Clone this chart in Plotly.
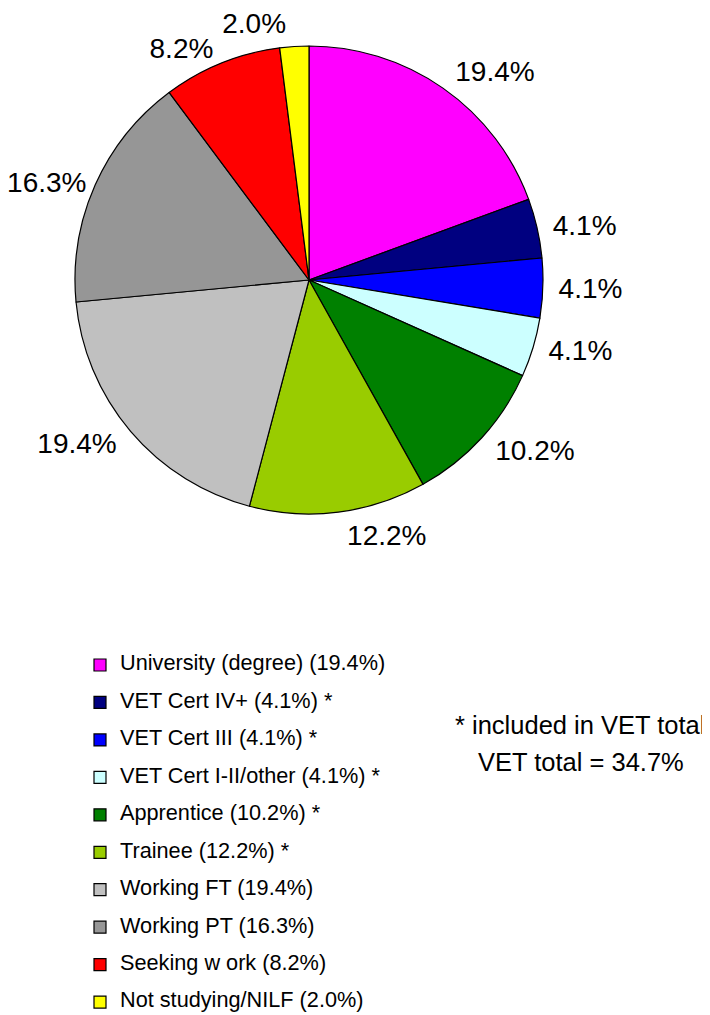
import plotly.graph_objects as go

categories = [
    "University (degree) (19.4%)",
    "VET Cert IV+ (4.1%) *",
    "VET Cert III (4.1%) *",
    "VET Cert I-II/other (4.1%) *",
    "Apprentice (10.2%) *",
    "Trainee (12.2%) *",
    "Working FT (19.4%)",
    "Working PT (16.3%)",
    "Seeking w ork (8.2%)",
    "Not studying/NILF (2.0%)",
]
values = [19.4, 4.1, 4.1, 4.1, 10.2, 12.2, 19.4, 16.3, 8.2, 2.0]
colors = ["#FF00FF", "#000080", "#0000FF", "#CCFFFF", "#008000",
          "#99CC00", "#C0C0C0", "#969696", "#FF0000", "#FFFF00"]
note_lines = ["* included in VET total", "VET total = 34.7%"]

FONT = "Liberation Sans, Arial, sans-serif"
# page has an 8px body margin, so the figure is 16px smaller than the window
W, H = 702, 1007
cx, cy, r = 301, 272, 234


def dom(rad):
    return dict(x=[(cx - rad) / W, (cx + rad) / W],
                y=[(H - cy - rad) / H, (H - cy + rad) / H])


legend_labels = [
    f"<span style='font-size:21.7px;baseline-shift:5px'>{c}</span>" for c in categories
]
n = len(values)
fmt = "%{value:.1f}%"
clear = ["rgba(0,0,0,0)"] * n

fig = go.Figure()
# the pie itself (slices + legend)
fig.add_trace(go.Pie(
    labels=legend_labels, values=values, sort=False,
    direction="clockwise", rotation=0,
    marker=dict(colors=colors, line=dict(color="black", width=1.2)),
    textinfo="none", hoverinfo="skip", domain=dom(r),
))

# transparent companion pies that carry the outside percentage labels
label_groups = [
    ({0, 1, 2, 3, 4, 5, 6, 9}, r + 8),
    ({7, 8}, r + 1),
]
for idx, rad in label_groups:
    fig.add_trace(go.Pie(
        labels=legend_labels, values=values, sort=False,
        direction="clockwise", rotation=0,
        marker=dict(colors=clear, line=dict(width=0)),
        texttemplate=[fmt if i in idx else "" for i in range(n)],
        textposition="outside",
        outsidetextfont=dict(family=FONT, size=28, color="black"),
        hoverinfo="skip", showlegend=False, domain=dom(rad),
    ))

fig.add_annotation(x=572 / W, y=(H - 717) / H, xref="paper", yref="paper",
                   text=note_lines[0], showarrow=False,
                   font=dict(family=FONT, size=25.5, color="black"),
                   xanchor="center", yanchor="middle")
fig.add_annotation(x=573 / W, y=(H - 754) / H, xref="paper", yref="paper",
                   text=note_lines[1], showarrow=False,
                   font=dict(family=FONT, size=25.5, color="black"),
                   xanchor="center", yanchor="middle")

fig.update_layout(
    width=W, height=H,
    margin=dict(l=0, r=0, t=0, b=0, autoexpand=False),
    paper_bgcolor="white", plot_bgcolor="white",
    showlegend=True,
    legend=dict(
        x=72 / W, y=(H - 633.3) / H, xanchor="left", yanchor="top",
        font=dict(family=FONT, size=26.5, color="black"),
        bgcolor="rgba(0,0,0,0)", borderwidth=0,
        traceorder="normal", itemclick=False, itemdoubleclick=False,
    ),
    font=dict(family=FONT),
)

fig.write_html("out.html")
